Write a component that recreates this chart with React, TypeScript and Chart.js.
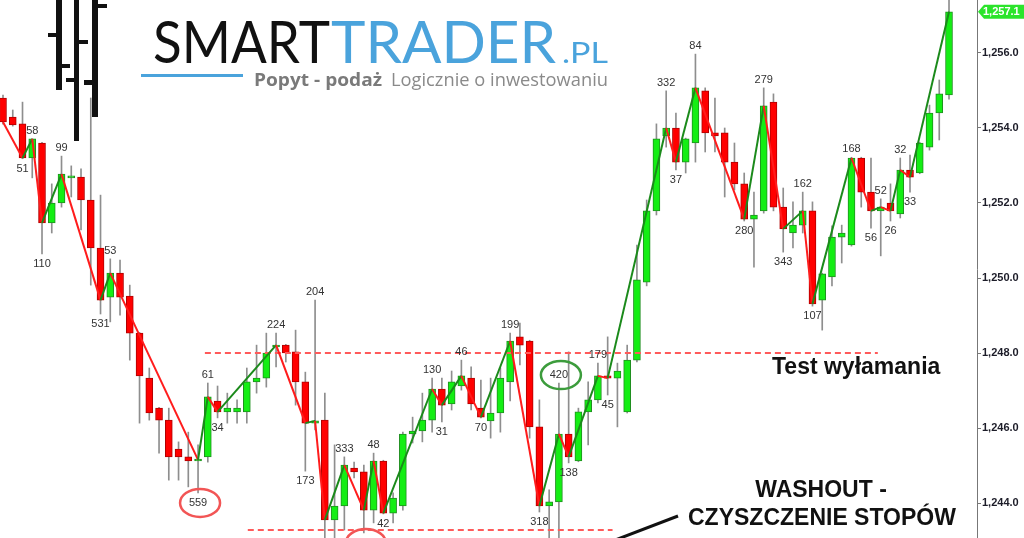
import React, { useEffect, useRef } from "react";
import { Chart, registerables } from "chart.js";

Chart.register(...registerables);

// ---- candle data (index = bar number) ----
const opens = [
  1254.80, 1254.29, 1254.11, 1253.20, 1253.60, 1251.47, 1252.00, 1252.67, 1252.69, 1252.08,
  1250.80, 1249.49, 1250.13, 1249.52, 1248.53, 1247.33, 1246.53, 1246.21, 1245.44, 1245.23,
  1245.12, 1245.23, 1246.72, 1246.43, 1246.43, 1246.43, 1247.23, 1247.33, 1248.16, 1248.21,
  1248.03, 1247.23, 1246.13, 1246.21, 1243.55, 1243.92, 1244.93, 1244.83, 1243.81, 1245.12,
  1243.73, 1243.92, 1245.84, 1245.92, 1246.21, 1247.04, 1246.64, 1247.12, 1247.33, 1246.53,
  1246.19, 1246.40, 1247.23, 1248.43, 1248.32, 1246.03, 1243.92, 1244.03, 1245.84, 1245.12,
  1246.43, 1246.75, 1247.39, 1247.33, 1246.43, 1247.81, 1249.89, 1251.79, 1253.79, 1254.00,
  1253.09, 1253.60, 1254.99, 1253.87, 1253.87, 1253.09, 1252.51, 1251.57, 1251.79, 1254.69,
  1251.89, 1251.20, 1251.41, 1251.79, 1249.41, 1250.03, 1251.09, 1250.88, 1253.20, 1252.29,
  1251.79, 1252.00, 1251.71, 1252.88, 1252.80, 1253.49, 1254.40, 1254.88,
];
const highs = [
  1254.88, 1254.48, 1254.69, 1253.71, 1253.62, 1252.51, 1253.25, 1252.99, 1252.91, 1254.80,
  1252.21, 1250.51, 1250.48, 1249.81, 1248.55, 1247.60, 1246.55, 1246.53, 1245.63, 1245.89,
  1245.55, 1247.20, 1247.12, 1246.93, 1246.75, 1247.60, 1248.21, 1248.53, 1248.53, 1248.23,
  1248.61, 1247.49, 1249.41, 1246.93, 1245.55, 1245.23, 1245.09, 1245.01, 1245.33, 1245.14,
  1244.27, 1245.89, 1246.29, 1246.93, 1247.33, 1247.33, 1247.52, 1247.81, 1247.63, 1247.28,
  1247.33, 1247.60, 1248.53, 1248.80, 1248.34, 1246.75, 1244.35, 1247.20, 1248.03, 1246.53,
  1247.23, 1247.73, 1248.43, 1247.73, 1248.21, 1250.88, 1252.08, 1254.11, 1254.99, 1254.40,
  1253.73, 1255.97, 1255.07, 1254.80, 1254.00, 1253.60, 1252.80, 1252.29, 1255.07, 1254.91,
  1252.40, 1252.03, 1252.29, 1252.03, 1250.13, 1251.39, 1251.41, 1253.22, 1253.22, 1253.20,
  1252.11, 1252.51, 1253.20, 1253.28, 1253.62, 1254.61, 1255.28, 1257.45,
];
const lows = [
  1254.10, 1254.05, 1253.18, 1252.67, 1250.64, 1251.20, 1251.89, 1252.16, 1251.28, 1249.81,
  1249.04, 1248.83, 1249.01, 1247.81, 1246.13, 1246.21, 1245.33, 1244.61, 1244.61, 1244.43,
  1244.27, 1245.09, 1246.27, 1246.13, 1246.13, 1246.13, 1246.93, 1247.09, 1247.63, 1247.76,
  1246.61, 1244.85, 1245.95, 1242.88, 1242.88, 1243.28, 1244.67, 1243.20, 1243.47, 1243.71,
  1243.47, 1243.81, 1245.60, 1245.63, 1245.89, 1246.16, 1246.48, 1247.01, 1246.48, 1246.27,
  1245.73, 1245.89, 1246.72, 1247.68, 1245.73, 1243.76, 1242.88, 1242.88, 1245.07, 1245.10,
  1245.55, 1246.67, 1246.88, 1246.03, 1246.40, 1247.76, 1249.79, 1251.68, 1253.49, 1252.88,
  1252.80, 1253.09, 1253.36, 1253.36, 1252.16, 1252.35, 1251.52, 1250.29, 1251.73, 1251.79,
  1250.69, 1250.80, 1251.20, 1249.25, 1248.61, 1249.79, 1250.40, 1250.85, 1251.89, 1251.33,
  1250.59, 1251.52, 1251.60, 1252.29, 1252.78, 1253.41, 1253.68, 1254.77,
];
const closes = [
  1254.16, 1254.08, 1253.20, 1253.71, 1251.47, 1252.00, 1252.77, 1252.69, 1252.08, 1250.80,
  1249.41, 1250.13, 1249.49, 1248.53, 1247.39, 1246.40, 1246.21, 1245.23, 1245.23, 1245.12,
  1245.15, 1246.83, 1246.43, 1246.53, 1246.53, 1247.23, 1247.33, 1248.00, 1248.21, 1248.00,
  1247.23, 1246.13, 1246.19, 1243.55, 1243.92, 1245.01, 1244.83, 1243.81, 1245.12, 1243.73,
  1244.13, 1245.84, 1245.92, 1246.21, 1247.04, 1246.61, 1247.23, 1247.39, 1246.64, 1246.29,
  1246.40, 1247.33, 1248.32, 1248.21, 1246.03, 1243.92, 1244.03, 1245.84, 1245.23, 1246.43,
  1246.75, 1247.39, 1247.33, 1247.52, 1247.81, 1249.95, 1251.79, 1253.71, 1254.00, 1253.09,
  1253.71, 1255.07, 1253.87, 1253.79, 1253.09, 1252.51, 1251.57, 1251.68, 1254.59, 1251.89,
  1251.31, 1251.41, 1251.79, 1249.31, 1250.11, 1251.09, 1251.20, 1253.20, 1252.29, 1251.79,
  1251.89, 1251.79, 1252.88, 1252.69, 1253.60, 1254.40, 1254.91, 1257.10,
];

// ---- zig-zag pivots (bar index) and their volume labels ----
const pivotIndex = [
  0, 2, 3, 4, 6, 10, 11, 20, 21, 22, 28, 31, 32, 33, 35, 37, 38, 39, 44, 45,
  47, 49, 52, 55, 57, 58, 61, 62, 68, 69, 71, 76, 78, 80, 82, 83, 87, 89, 90, 91,
  92, 93, 97,
];
const pivotLabels = [
  "", "51", "58", "110", "99", "531", "53", "559", "61", "34", "224", "173", "204", "", "333", "157", "48", "42", "130", "31",
  "46", "70", "199", "318", "420", "138", "179", "45", "332", "37", "84", "280", "279", "343", "162", "107", "168", "56", "52", "26",
  "32", "33", "",
];
const circledRed = ["559", "157"];
const circledGreen = ["420"];

// ---- axis ----
const yTicks = [1244, 1246, 1248, 1250, 1252, 1254, 1256];
const Y_MIN = 1243.067;
const Y_MAX = 1257.413;
const X_MIN = -0.3076;
const X_MAX = 99.87;
const lastPrice = 1257.1;

// ---- support / resistance levels ----
const breakoutLevel = 1248.0;
const breakoutSpan = [20.7, 89.7];
const washoutLevel = 1243.28;
const washoutSpan = [25.1, 62.5];

const UP_FILL = "#14ee14";
const UP_BORDER = "#1f8f1f";
const DOWN_FILL = "#ff0000";
const DOWN_BORDER = "#b00000";
const ZIG_UP = "#1b8a1b";
const ZIG_DOWN = "#ff1c1c";

const fmt = (v: number) =>
  v.toLocaleString("en-US", { minimumFractionDigits: 1, maximumFractionDigits: 1 });

function drawFitted(
  ctx: CanvasRenderingContext2D,
  text: string,
  x: number,
  baseline: number,
  width: number,
  font: string,
  color: string
) {
  ctx.save();
  ctx.font = font;
  ctx.fillStyle = color;
  ctx.textAlign = "left";
  ctx.textBaseline = "alphabetic";
  const w = ctx.measureText(text).width;
  ctx.translate(x, baseline);
  ctx.scale(width / w, 1);
  ctx.fillText(text, 0, 0);
  ctx.restore();
}

export default function App() {
  const ref = useRef<HTMLCanvasElement>(null);

  useEffect(() => {
    const canvas = ref.current;
    if (!canvas) return;
    const idx = opens.map((_, i) => i);
    const isUp = idx.map((i) => closes[i] >= opens[i]);
    const zig = pivotIndex.map((i) => ({ x: i, y: closes[i] }));
    const sides = pivotIndex.map((i, k) =>
      k === 0 ? "" : closes[i] > closes[pivotIndex[k - 1]] ? "H" : "L"
    );

    const overlay = {
      id: "overlay",
      afterDatasetsDraw(chart: any) {
        const ctx: CanvasRenderingContext2D = chart.ctx;
        const xs = chart.scales.x;
        const ys = chart.scales.y;
        ctx.save();
        ctx.font = '11px "Liberation Sans", Arial, sans-serif';
        ctx.fillStyle = "#333333";
        ctx.textAlign = "center";
        ctx.textBaseline = "middle";
        pivotIndex.forEach((i, k) => {
          const lab = pivotLabels[k];
          if (!lab) return;
          const x = xs.getPixelForValue(i);
          const y =
            sides[k] === "H"
              ? ys.getPixelForValue(highs[i]) - 8
              : ys.getPixelForValue(lows[i]) + 10;
          ctx.fillText(lab, x, y);
          const red = circledRed.includes(lab);
          const green = circledGreen.includes(lab);
          if (red || green) {
            ctx.save();
            ctx.beginPath();
            ctx.ellipse(x + 2, y, 20, 14, 0, 0, Math.PI * 2);
            ctx.lineWidth = 2.5;
            ctx.strokeStyle = red ? "#f25555" : "#3c9c3c";
            ctx.stroke();
            ctx.restore();
          }
        });
        ctx.restore();
      },
      afterDraw(chart: any) {
        const ctx: CanvasRenderingContext2D = chart.ctx;
        const ys = chart.scales.y;
        ctx.save();
        // price tag
        const py = ys.getPixelForValue(lastPrice);
        ctx.beginPath();
        ctx.moveTo(978, py);
        ctx.lineTo(984, py - 7);
        ctx.lineTo(1024, py - 7);
        ctx.lineTo(1024, py + 7);
        ctx.lineTo(984, py + 7);
        ctx.closePath();
        ctx.fillStyle = "#2be42b";
        ctx.fill();
        ctx.fillStyle = "#ffffff";
        ctx.font = 'bold 11px "Liberation Sans", Arial, sans-serif';
        ctx.textAlign = "left";
        ctx.textBaseline = "middle";
        ctx.fillText(fmt(lastPrice), 983, py + 0.5);

        // annotations
        ctx.fillStyle = "#111111";
        ctx.font = 'bold 23px "Liberation Sans", Arial, sans-serif';
        ctx.textBaseline = "middle";
        ctx.textAlign = "left";
        ctx.fillText("Test wyłamania", 772, 368);
        ctx.textAlign = "center";
        ctx.fillText("WASHOUT -", 821, 491);
        ctx.textAlign = "left";
        ctx.fillText("CZYSZCZENIE STOPÓW", 688, 519);
        ctx.beginPath();
        ctx.moveTo(610, 542);
        ctx.lineTo(678, 516);
        ctx.lineWidth = 3;
        ctx.strokeStyle = "#111111";
        ctx.stroke();

        // logo icon
        ctx.fillStyle = "#111111";
        ctx.fillRect(56, 0, 6, 90);
        ctx.fillRect(48, 33, 8, 4);
        ctx.fillRect(62, 64, 8, 4);
        ctx.fillRect(74, 0, 5, 141);
        ctx.fillRect(79, 40, 9, 4);
        ctx.fillRect(66, 78, 8, 4);
        ctx.fillRect(92, 0, 6, 117);
        ctx.fillRect(98, 4, 9, 4);
        ctx.fillRect(84, 80, 8, 5);

        // logo text
        drawFitted(ctx, "SMART", 153, 63, 177, '400 58px Lato, "Open Sans", sans-serif', "#111111");
        drawFitted(ctx, "TRADER", 331, 63, 225, '400 58px Lato, "Open Sans", sans-serif', "#4aa3dc");
        drawFitted(ctx, ".PL", 562, 63, 46, '400 28px Lato, "Open Sans", sans-serif', "#4aa3dc");
        ctx.fillStyle = "#4aa3dc";
        ctx.fillRect(141, 74, 102, 3);
        drawFitted(ctx, "Popyt - podaż", 254, 86, 128, '700 18px "Open Sans", sans-serif', "#7a7a7a");
        drawFitted(ctx, "Logicznie o inwestowaniu", 391, 86, 217, '400 18px "Open Sans", sans-serif', "#8a8a8a");
        ctx.restore();
      },
    };

    const chart = new Chart(canvas, {
      type: "bar",
      data: {
        datasets: [
          {
            type: "line",
            data: zig,
            borderWidth: 2,
            borderColor: ZIG_UP,
            pointRadius: 0,
            tension: 0,
            order: 1,
            segment: {
              borderColor: (c: any) => (c.p1.parsed.y < c.p0.parsed.y ? ZIG_DOWN : ZIG_UP),
            },
          } as any,
          {
            type: "line",
            data: [
              { x: breakoutSpan[0], y: breakoutLevel },
              { x: breakoutSpan[1], y: breakoutLevel },
            ],
            borderColor: "#ff5a5a",
            borderWidth: 2,
            borderDash: [6, 4],
            pointRadius: 0,
            order: 2,
          } as any,
          {
            type: "line",
            data: [
              { x: washoutSpan[0], y: washoutLevel },
              { x: washoutSpan[1], y: washoutLevel },
            ],
            borderColor: "#ff5a5a",
            borderWidth: 2,
            borderDash: [6, 4],
            pointRadius: 0,
            order: 2,
          } as any,
          {
            type: "bar",
            data: idx.map((i) => ({ x: i, y: [opens[i], closes[i]] })),
            backgroundColor: idx.map((i) => (isUp[i] ? UP_FILL : DOWN_FILL)),
            borderColor: idx.map((i) => (isUp[i] ? UP_BORDER : DOWN_BORDER)),
            borderWidth: 1,
            borderSkipped: false,
            barThickness: 7,
            grouped: false,
            minBarLength: 2,
            order: 3,
          } as any,
          {
            type: "bar",
            data: idx.map((i) => ({ x: i, y: [lows[i], highs[i]] })),
            backgroundColor: "#8e8e8e",
            borderWidth: 0,
            barThickness: 1,
            grouped: false,
            order: 4,
          } as any,
        ],
      },
      options: {
        responsive: false,
        maintainAspectRatio: false,
        animation: false,
        events: [],
        layout: { padding: 0 },
        plugins: { legend: { display: false }, tooltip: { enabled: false } },
        scales: {
          x: { type: "linear", display: false, min: X_MIN, max: X_MAX, offset: false },
          y: {
            position: "right",
            min: Y_MIN,
            max: Y_MAX,
            beginAtZero: false,
            afterBuildTicks: (s: any) => {
              s.ticks = yTicks.map((v) => ({ value: v }));
            },
            afterFit: (s: any) => {
              s.width = 47;
              s.paddingTop = 0;
              s.paddingBottom = 0;
            },
            ticks: {
              padding: 1,
              color: "#1c1c28",
              font: { family: '"Liberation Sans", Arial, sans-serif', size: 11, weight: "bold" },
              callback: (v: any) => fmt(Number(v)),
            },
            grid: { drawOnChartArea: false, drawTicks: true, tickLength: 4, color: "#777777" },
            border: { display: true, color: "#777777" },
          },
        },
      } as any,
      plugins: [overlay],
    });
    return () => chart.destroy();
  }, []);

  return (
    <div style={{ position: "fixed", left: 0, top: 0, width: 1024, height: 538, background: "#fff" }}>
      <canvas ref={ref} width={1024} height={538} style={{ display: "block" }} />
    </div>
  );
}
